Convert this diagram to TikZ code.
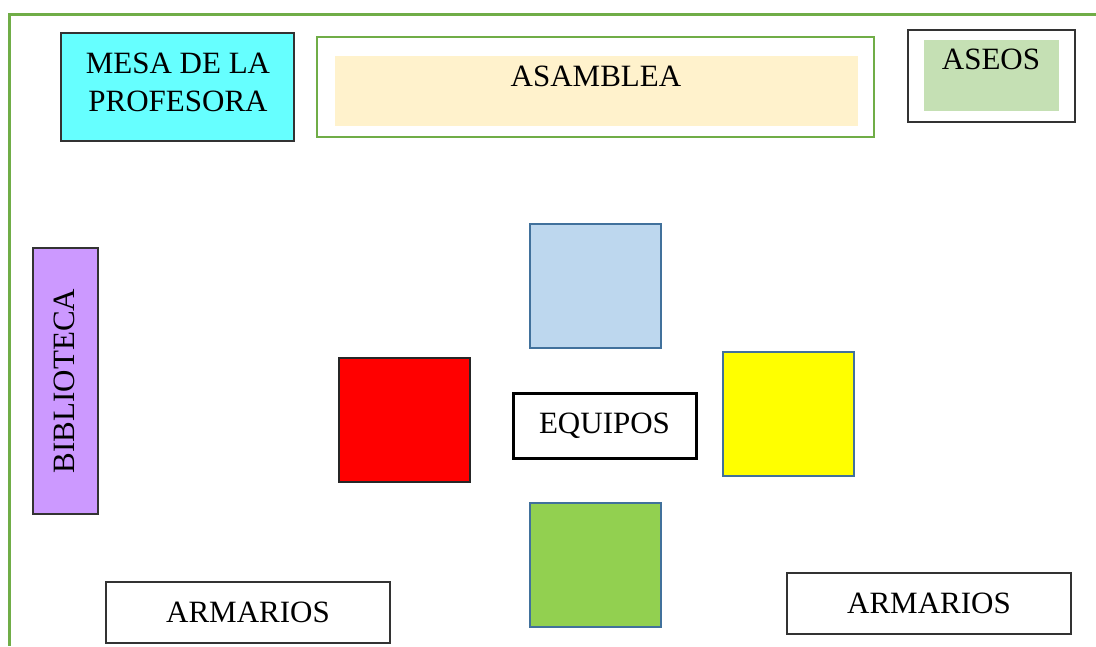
\documentclass[tikz,border=0pt]{standalone}
\usepackage{fontspec}
\setmainfont{Liberation Serif}
\definecolor{frameg}{HTML}{70AD47}
\definecolor{mesac}{HTML}{66FFFF}
\definecolor{asamc}{HTML}{FFF2CC}
\definecolor{aseoc}{HTML}{C5E0B4}
\definecolor{bibc}{HTML}{CC99FF}
\definecolor{blueb}{HTML}{41719C}
\definecolor{lblue}{HTML}{BDD7EE}
\definecolor{grn}{HTML}{92D050}
\definecolor{yel}{RGB}{255,255,0}
\definecolor{redc}{RGB}{255,0,0}
\begin{document}
\begin{tikzpicture}[x=1pt,y=-1pt,
  lbl/.style={font=\fontsize{31}{38}\selectfont, align=center, inner sep=0pt},
  box/.style={draw=black!80, line width=1.3pt, inner sep=0pt},
  sq/.style={draw=blueb, line width=2pt, minimum width=131pt, minimum height=124pt, inner sep=0pt}]
\useasboundingbox (0,0) rectangle (1096,646);
% frame (top and left sides)
\coordinate (fTR) at (1096,14);
\coordinate (fTL) at (9,14);
\coordinate (fBL) at (9,646);
\draw[frameg, line width=3pt] (fTR) -- (fTL) -- (fBL);
% mesa
\node[box, fill=mesac, minimum width=233pt, minimum height=108pt] (mesa) at (177.5,87) {};
\node[lbl] (mesat) at (178,82) {MESA DE LA\\PROFESORA};
% asamblea
\node[draw=frameg, line width=2.5pt, minimum width=557pt, minimum height=100pt, inner sep=0pt] (asam) at (595.5,87) {};
\node[fill=asamc, minimum width=523pt, minimum height=70pt, inner sep=0pt] (asamin) at (596.5,91) {};
\node[lbl] (asamt) at (596,76) {ASAMBLEA};
% aseos
\node[box, minimum width=167pt, minimum height=92pt] (aseo) at (991.5,76) {};
\node[fill=aseoc, minimum width=135pt, minimum height=71pt, inner sep=0pt] (aseoin) at (991.5,75.5) {};
\node[lbl] (aseot) at (991,59) {ASEOS};
% biblioteca
\node[box, fill=bibc, minimum width=65pt, minimum height=266pt] (bib) at (65.5,381) {};
\node[lbl, rotate=90] (bibt) at (64,381) {BIBLIOTECA};
% team tables
\node[sq, fill=lblue] (tblue) at (595,286) {};
\node[sq, fill=redc, draw=black!85] (tred) at (404.5,420) {};
\node[sq, fill=yel] (tyellow) at (788,414) {};
\node[sq, fill=grn] (tgreen) at (595,565) {};
\node[lbl, draw=black, line width=3pt, minimum width=183pt, minimum height=65pt] (equi) at (604.5,425.5) {EQUIPOS};
% armarios
\node[lbl, draw=black!80, line width=1.3pt, minimum width=284pt, minimum height=61pt] (arm1) at (248,612.5) {ARMARIOS};
\node[lbl, draw=black!80, line width=1.3pt, minimum width=284pt, minimum height=61pt] (arm2) at (929,603.5) {ARMARIOS};
\end{tikzpicture}
\end{document}
